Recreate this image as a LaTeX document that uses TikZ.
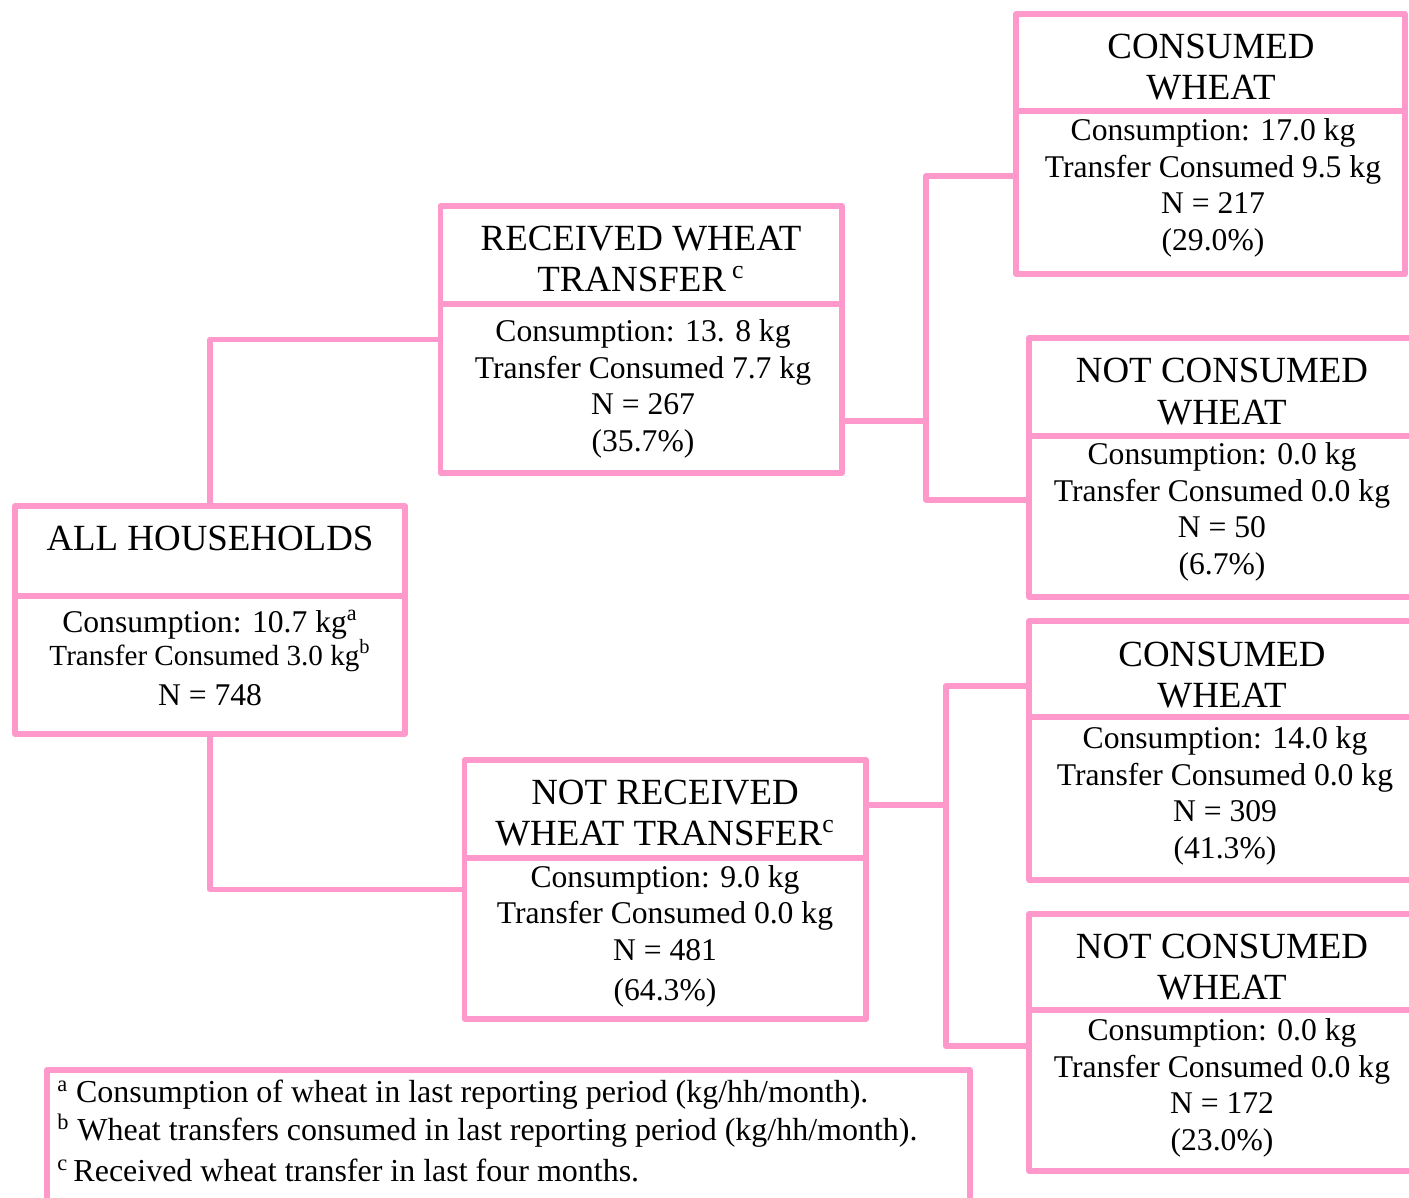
\documentclass[tikz,border=0pt]{standalone}
\usepackage{fontspec}
\setmainfont{Liberation Serif}
\usetikzlibrary{fit}
\definecolor{pinkline}{RGB}{255,153,204}
\tikzset{
  box/.style={draw=pinkline, line width=3.1pt, line join=round, inner sep=0pt, outer sep=0pt},
  conn/.style={draw=pinkline, line width=3.1pt, line join=round},
  ttl/.style={font=\fontsize{21}{23.8}\selectfont, align=center, inner sep=0pt},
  bdy/.style={font=\fontsize{18}{20.8}\selectfont, align=center, inner sep=0pt},
  bline/.style={font=\fontsize{18}{20.8}\selectfont, anchor=base, inner sep=0pt},
  fn/.style={font=\fontsize{18.2}{20}\selectfont, anchor=base west, inner sep=0pt},
}
\begin{document}
\begin{tikzpicture}[x=0.02cm, y=-0.02cm]
\useasboundingbox (0,0) rectangle (1409,1197);
\clip (0,0) rectangle (1409,1197);
\fill[white] (0,0) rectangle (1409,1197);

% boxes
\node[box, fit={(15,506) (405,734)}] (all) {};
\node[box, fit={(440.5,206) (842,473)}] (rec) {};
\node[box, fit={(464.5,760) (866,1019)}] (nrec) {};
\node[box, fit={(1016,14) (1405,274)}] (cw1) {};
\node[box, fit={(1029,338) (1420,597)}] (ncw1) {};
\node[box, fit={(1029,621) (1420,880)}] (cw2) {};
\node[box, fit={(1029,914) (1420,1171)}] (ncw2) {};
\node[box, fit={(47,1070) (970,1230)}] (foot) {};

% dividers
\draw[conn] (15,596) -- (405,596);
\draw[conn] (440.5,304) -- (842,304);
\draw[conn] (464.5,858) -- (866,858);
\draw[conn] (1016,111) -- (1405,111);
\draw[conn] (1029,436) -- (1420,436);
\draw[conn] (1029,717) -- (1420,717);
\draw[conn] (1029,1010) -- (1420,1010);

% connectors
\coordinate (j1) at (926,421);
\coordinate (j1t) at (926,176);
\coordinate (j1b) at (926,500);
\coordinate (j2) at (946,805);
\coordinate (j2t) at (946,686);
\coordinate (j2b) at (946,1046);
\draw[conn] (all.north) |- (rec.west);
\draw[conn] (all.south) |- (nrec.west);
\draw[conn] (rec.east |- j1) -- (j1);
\draw[conn] (cw1.west |- j1t) -- (j1t) -- (j1b) -- (ncw1.west |- j1b);
\draw[conn] (nrec.east |- j2) -- (j2);
\draw[conn] (cw2.west |- j2t) -- (j2t) -- (j2b) -- (ncw2.west |- j2b);

% texts
\node[ttl] (allt) at (210,538) {ALL HOUSEHOLDS};
\node[bline] (allb1) at (210,632) {Consumption: 10.7 kg\textsuperscript{a}};
\node[bline, font=\fontsize{16.6}{18}\selectfont] (allb2) at (210,665) {Transfer Consumed 3.0 kg\textsuperscript{b}};
\node[bline] (allb3) at (210,705) {N = 748};

\node[ttl] (rect) at (641,259) {RECEIVED WHEAT\\TRANSFER\,\textsuperscript{c}};
\node[bdy] (recb) at (643,389) {Consumption: 13. 8 kg\\Transfer Consumed 7.7 kg\\N = 267\\(35.7\%)};

\node[ttl] (nrect) at (665,813) {NOT RECEIVED\\WHEAT TRANSFER\textsuperscript{c}};
\node[bdy] (nrecb) at (665,936) {Consumption: 9.0 kg\\Transfer Consumed 0.0 kg\\N = 481\\[2pt](64.3\%)};

\node[ttl] (cw1t) at (1211,67) {CONSUMED\\WHEAT};
\node[bdy] (cw1b) at (1213,188) {Consumption: 17.0 kg\\Transfer Consumed 9.5 kg\\N = 217\\(29.0\%)};

\node[ttl] (ncw1t) at (1222,391.5) {NOT CONSUMED\\WHEAT};
\node[bdy] (ncw1b) at (1222,512) {Consumption: 0.0 kg\\Transfer Consumed 0.0 kg\\N = 50\\(6.7\%)};

\node[ttl] (cw2t) at (1222,675) {CONSUMED\\WHEAT};
\node[bdy] (cw2b) at (1225,796) {Consumption: 14.0 kg\\Transfer Consumed 0.0 kg\\N = 309\\(41.3\%)};

\node[ttl] (ncw2t) at (1222,967) {NOT CONSUMED\\WHEAT};
\node[bdy] (ncw2b) at (1222,1088) {Consumption: 0.0 kg\\Transfer Consumed 0.0 kg\\N = 172\\(23.0\%)};

\node[fn] (fa) at (57,1102) {\textsuperscript{a} Consumption of wheat in last reporting period (kg/hh/month).};
\node[fn] (fb) at (57,1140) {\textsuperscript{b} Wheat transfers consumed in last reporting period (kg/hh/month).};
\node[fn] (fc) at (57,1181) {\textsuperscript{c}\,Received wheat transfer in last four months.};
\end{tikzpicture}
\end{document}
